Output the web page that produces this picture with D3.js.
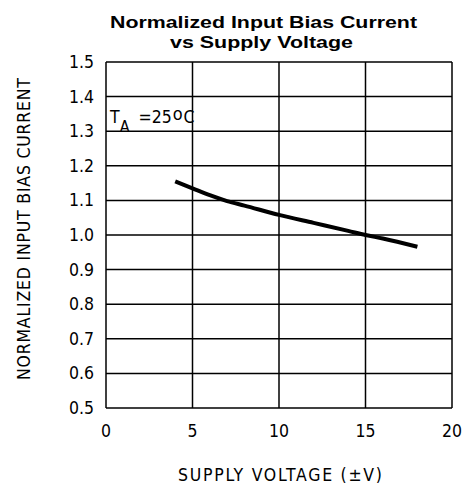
<!DOCTYPE html>
<html>
<head>
<meta charset="utf-8">
<script src="https://cdn.jsdelivr.net/npm/d3@7"></script>
<style>
  body { margin: 0; background: #fff; }
  .lbl { font-family: "DejaVu Sans Condensed", "DejaVu Sans", sans-serif; font-size: 17.5px; fill: #000; }
  .ttl { font-family: "Liberation Sans", Arial, sans-serif; font-weight: bold; font-size: 17px; fill: #000; }
</style>
</head>
<body>
<svg id="chart" width="464" height="485"></svg>
<script>
// supply voltage (+/-V) and normalized bias current
const voltage = [4, 5, 6, 7, 8, 10, 12, 14, 15, 16, 18];
const biasCurrent = [1.155, 1.135, 1.115, 1.098, 1.085, 1.058, 1.035, 1.012, 1.0, 0.99, 0.966];

const xTicks = [0, 5, 10, 15, 20];
const yTicks = [0.5, 0.6, 0.7, 0.8, 0.9, 1.0, 1.1, 1.2, 1.3, 1.4, 1.5];

// plot box
const plotLeft = 106, plotTop = 62, plotRight = 452, plotBottom = 408;

const svg = d3.select("#chart");

const x = d3.scaleLinear().domain([0, 20]).range([plotLeft, plotRight]);
const y = d3.scaleLinear().domain([0.5, 1.5]).range([plotBottom, plotTop]);

// grid
svg.append("g")
  .selectAll("line")
  .data(xTicks)
  .enter().append("line")
  .attr("x1", d => x(d)).attr("x2", d => x(d))
  .attr("y1", plotTop).attr("y2", plotBottom)
  .attr("stroke", "#000").attr("stroke-width", 1.5);

svg.append("g")
  .selectAll("line")
  .data(yTicks)
  .enter().append("line")
  .attr("x1", plotLeft).attr("x2", plotRight)
  .attr("y1", d => y(d)).attr("y2", d => y(d))
  .attr("stroke", "#000").attr("stroke-width", 1.5);

// tick labels
svg.append("g")
  .selectAll("text")
  .data(yTicks)
  .enter().append("text")
  .attr("class", "lbl")
  .attr("x", plotLeft - 12)
  .attr("y", d => y(d) + 6)
  .attr("text-anchor", "end")
  .text(d => d.toFixed(1));

svg.append("g")
  .selectAll("text")
  .data(xTicks)
  .enter().append("text")
  .attr("class", "lbl")
  .attr("x", d => x(d))
  .attr("y", plotBottom + 29)
  .attr("text-anchor", "middle")
  .text(d => d);

// curve
const line = d3.line()
  .x((d, i) => x(voltage[i]))
  .y(d => y(d))
  .curve(d3.curveMonotoneX);

svg.append("path")
  .datum(biasCurrent)
  .attr("d", line)
  .attr("fill", "none")
  .attr("stroke", "#000")
  .attr("stroke-width", 4);

// annotation
const ann = svg.append("text").attr("class", "lbl").attr("x", 110).attr("y", 123);
ann.append("tspan").text("T");
ann.append("tspan").attr("dy", 9).attr("font-size", 16).text("A");
ann.append("tspan").attr("dy", -9).attr("dx", 9).text("=25");
ann.append("tspan").attr("font-size", 18).attr("dy", -3).attr("dx", 1).text("o");
ann.append("tspan").attr("dy", 3).attr("dx", 1).text("C");

// titles
svg.append("text").attr("class", "ttl")
  .attr("x", 263.5).attr("y", 28).attr("text-anchor", "middle")
  .attr("textLength", 307).attr("lengthAdjust", "spacingAndGlyphs")
  .text("Normalized Input Bias Current");
svg.append("text").attr("class", "ttl")
  .attr("x", 261.5).attr("y", 48).attr("text-anchor", "middle")
  .attr("textLength", 183).attr("lengthAdjust", "spacingAndGlyphs")
  .text("vs Supply Voltage");

svg.append("text").attr("class", "lbl")
  .attr("x", 178).attr("y", 481)
  .attr("textLength", 204).attr("lengthAdjust", "spacing")
  .text("SUPPLY VOLTAGE (±V)");

svg.append("text").attr("class", "lbl")
  .attr("transform", "translate(30,380) rotate(-90)")
  .attr("textLength", 302).attr("lengthAdjust", "spacing")
  .text("NORMALIZED INPUT BIAS CURRENT");
</script>
</body>
</html>
